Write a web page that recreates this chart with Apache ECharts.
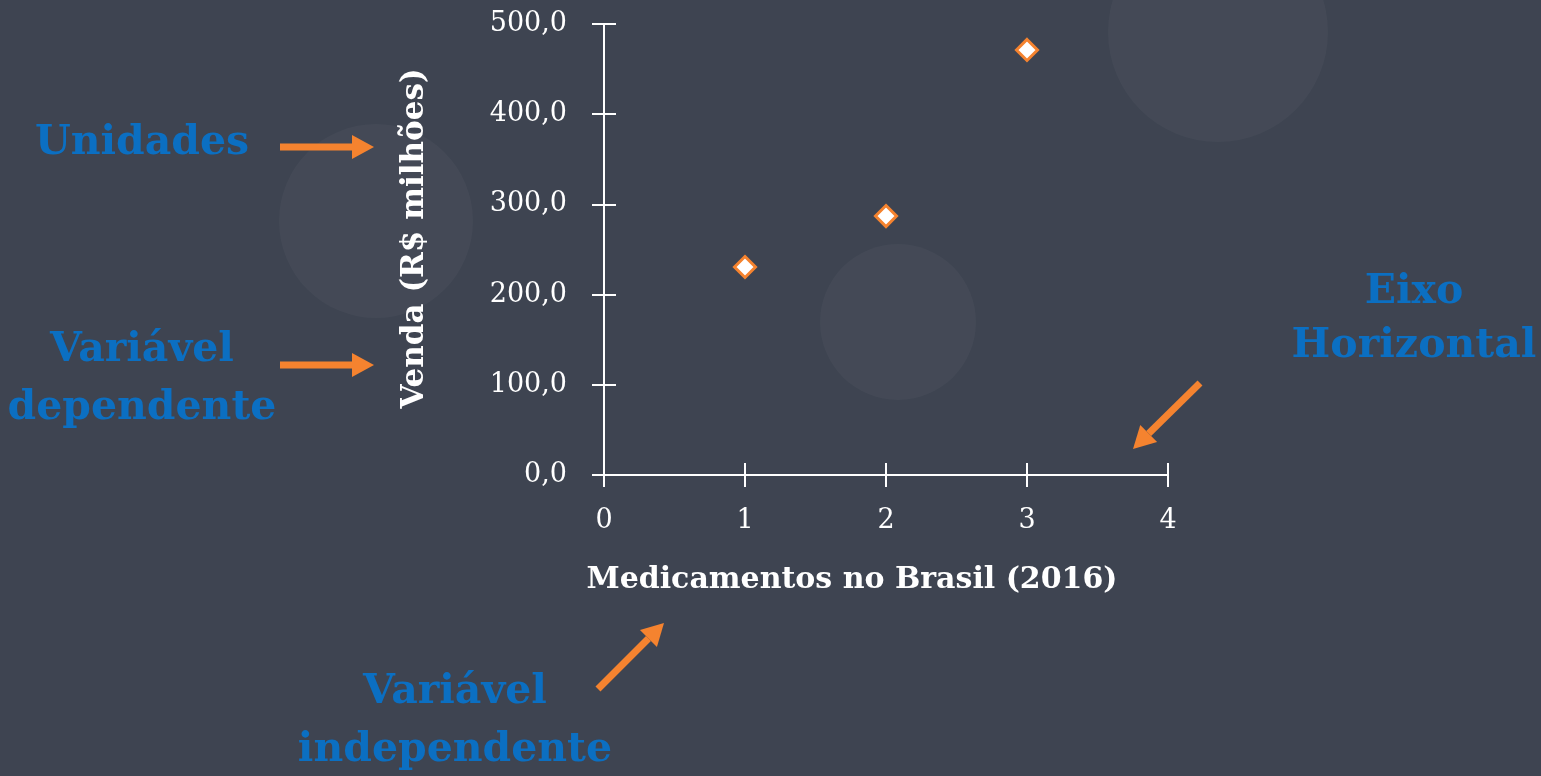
<!DOCTYPE html>
<html>
<head>
<meta charset="utf-8">
<script src="https://cdn.jsdelivr.net/npm/echarts@6/dist/echarts.min.js"></script>
<style>
  html, body { margin: 0; padding: 0; background: #3e4451; }
  #echart { width: 1541px; height: 776px; }
</style>
</head>
<body>
<div id="echart"></div>
<script>
// dados do gráfico
const xValues = [1, 2, 3];
const yValues = [230.6, 287.1, 471.2];
const xTicks = [0, 1, 2, 3, 4];
const yTicks = [0, 100, 200, 300, 400, 500];
const xName = 'Medicamentos no Brasil (2016)';
const yName = 'Venda (R$ milhões)';

const orange = '#f5832f';
const blue = '#0b6fc2';
const serif = 'DejaVu Serif';

const points = xValues.map((x, i) => [x, yValues[i]]);

// seta simples: corpo + ponta
function arrow(x1, y1, x2, y2) {
  const ang = Math.atan2(y2 - y1, x2 - x1);
  const head = 22, half = 12;
  const bx = x2 - head * Math.cos(ang), by = y2 - head * Math.sin(ang);
  const px = -Math.sin(ang) * half, py = Math.cos(ang) * half;
  return [
    { type: 'line', shape: { x1, y1, x2: bx, y2: by }, style: { stroke: orange, lineWidth: 7 } },
    { type: 'polygon', shape: { points: [[x2, y2], [bx + px, by + py], [bx - px, by - py]] }, style: { fill: orange } }
  ];
}

function label(text, x, y) {
  return {
    type: 'text', x, y,
    style: { text, fill: blue, font: 'bold 41px "' + serif + '"', textAlign: 'center', textVerticalAlign: 'middle' }
  };
}

const circleStyle = { fill: 'rgba(255,255,255,0.03)' };

const axisCommon = {
  min: 0,
  splitLine: { show: false },
  axisLine: { show: true, lineStyle: { color: '#ffffff', width: 2 } }
};

const option = {
  backgroundColor: '#3e4451',
  animation: false,
  grid: { left: 604, right: 373, top: 24, bottom: 301, containLabel: false },
  xAxis: [
    Object.assign({}, axisCommon, {
      type: 'value', max: 4, interval: 1,
      axisTick: { show: true, length: 12, lineStyle: { color: '#fff', width: 2 } },
      axisLabel: { color: '#fff', fontFamily: serif, fontSize: 27, margin: 32,
        formatter: v => xTicks.includes(v) ? String(v) : '' },
      name: xName, nameLocation: 'middle', nameGap: 90,
      nameTextStyle: { color: '#fff', fontFamily: serif, fontWeight: 'bold', fontSize: 30, padding: [0, 68, 0, 0] }
    }),
    Object.assign({}, axisCommon, {
      type: 'value', max: 4, interval: 1,
      axisTick: { show: true, inside: true, length: 12, lineStyle: { color: '#fff', width: 2 } },
      axisLabel: { show: false }, position: 'bottom'
    })
  ],
  yAxis: [
    Object.assign({}, axisCommon, {
      type: 'value', max: 500, interval: 100,
      axisTick: { show: true, length: 12, lineStyle: { color: '#fff', width: 2 } },
      axisLabel: { color: '#fff', fontFamily: serif, fontSize: 27, margin: 37,
        formatter: v => yTicks.includes(v) ? v.toFixed(1).replace('.', ',') : '' },
      name: yName, nameLocation: 'middle', nameGap: 174, nameRotate: 90,
      nameTextStyle: { color: '#fff', fontFamily: serif, fontWeight: 'bold', fontSize: 31, padding: [0, 0, 0, 22] }
    }),
    Object.assign({}, axisCommon, {
      type: 'value', max: 500, interval: 100, position: 'left',
      axisTick: { show: true, inside: true, length: 12, lineStyle: { color: '#fff', width: 2 } },
      axisLabel: { show: false }
    })
  ],
  series: [
    {
      type: 'scatter',
      xAxisIndex: 0,
      yAxisIndex: 0,
      symbol: 'diamond',
      symbolSize: 21,
      itemStyle: { color: '#ffffff', borderColor: orange, borderWidth: 3, opacity: 1 },
      data: points,
      z: 5
    }
  ],
  graphic: [
    { type: 'circle', shape: { cx: 376, cy: 221, r: 97 }, style: circleStyle, z: -10 },
    { type: 'circle', shape: { cx: 898, cy: 322, r: 78 }, style: circleStyle, z: -10 },
    { type: 'circle', shape: { cx: 1218, cy: 32, r: 110 }, style: circleStyle, z: -10 },
    label('Unidades', 142, 143),
    label('Variável', 142, 350),
    label('dependente', 142, 408),
    label('Eixo', 1414, 292),
    label('Horizontal', 1414, 346),
    label('Variável', 455, 692),
    label('independente', 455, 750),
    ...arrow(280, 147, 374, 147),
    ...arrow(280, 365, 374, 365),
    ...arrow(1200, 383, 1133, 449),
    ...arrow(598, 689, 664, 623)
  ]
};

const chart = echarts.init(document.getElementById('echart'));
chart.setOption(option);
</script>
</body>
</html>
